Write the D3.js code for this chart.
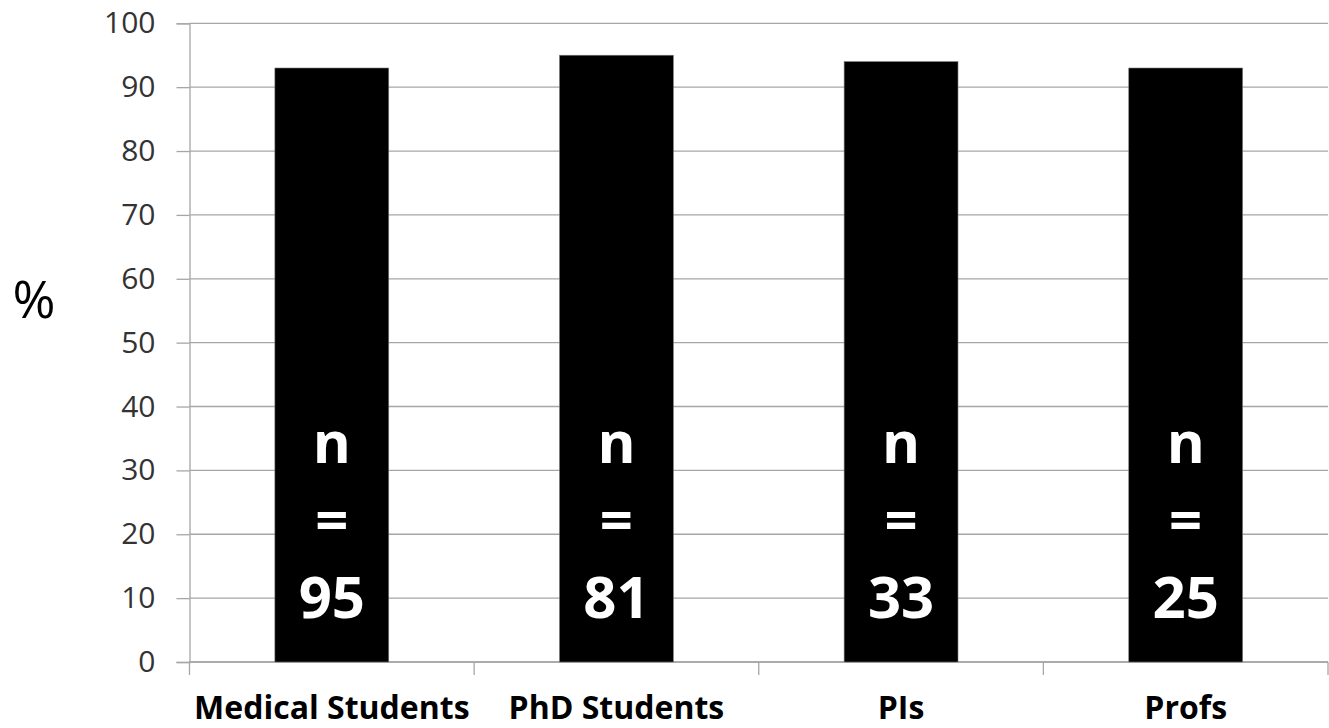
<!DOCTYPE html>
<html>
<head>
<meta charset="utf-8">
<script src="https://cdn.jsdelivr.net/npm/d3@7"></script>
<style>
  html, body { margin: 0; padding: 0; background: #fff; }
  svg { display: block; }
</style>
</head>
<body>
<svg id="chart" width="1329" height="728"></svg>
<script>
// Share of respondents (%) by group, with group sizes
const categories = ["Medical Students", "PhD Students", "PIs", "Profs"];
const percentValues = [93, 95, 94, 93];
const sampleSizes = [95, 81, 33, 25];
const yTickValues = [0, 10, 20, 30, 40, 50, 60, 70, 80, 90, 100];

const svg = d3.select("#chart");
const plotLeft = 189.5, plotRight = 1328, plotTop = 23.3, plotBottom = 662;

const x = d3.scaleBand().domain(categories).range([plotLeft, plotRight]).padding(0);
const y = d3.scaleLinear().domain([0, 100]).range([plotBottom, plotTop]);

const gridColor = "#a6a6a6";
const font = "'Open Sans', sans-serif";

// horizontal gridlines
svg.append("g")
  .selectAll("line")
  .data(yTickValues)
  .join("line")
  .attr("x1", plotLeft).attr("x2", plotRight)
  .attr("y1", d => y(d)).attr("y2", d => y(d))
  .attr("stroke", gridColor).attr("stroke-width", 1.3);

// y axis
const yAxis = svg.append("g")
  .attr("transform", `translate(${plotLeft},0)`)
  .call(d3.axisLeft(y).tickValues(yTickValues).tickSize(13).tickPadding(21));
yAxis.select(".domain").attr("stroke", gridColor).attr("stroke-width", 1.3);
yAxis.selectAll(".tick line").attr("stroke", gridColor).attr("stroke-width", 1.3);
yAxis.selectAll(".tick text")
  .attr("font-family", font).attr("font-size", 30).attr("fill", "#333");

// x axis: category labels below the baseline
const xAxis = svg.append("g")
  .attr("transform", `translate(0,${plotBottom})`)
  .call(d3.axisBottom(x).tickSize(0));
xAxis.select(".domain").remove();
xAxis.selectAll(".tick text")
  .attr("y", 57).attr("dy", 0)
  .attr("font-family", font).attr("font-size", 32).attr("font-weight", 700).attr("fill", "#000");

// tick marks at the category boundaries
const boundaries = categories.map(c => x(c)).concat([x(categories[categories.length - 1]) + x.bandwidth()]);
svg.append("g")
  .selectAll("line")
  .data(boundaries)
  .join("line")
  .attr("x1", d => d).attr("x2", d => d)
  .attr("y1", plotBottom).attr("y2", plotBottom + 13)
  .attr("stroke", gridColor).attr("stroke-width", 1.3);
svg.append("line")
  .attr("x1", plotLeft).attr("x2", plotRight)
  .attr("y1", plotBottom).attr("y2", plotBottom)
  .attr("stroke", gridColor).attr("stroke-width", 1.3);

// bars
const barW = x.bandwidth() * 0.4;
const data = categories.map((c, i) => ({ c, v: percentValues[i], n: sampleSizes[i] }));

svg.append("g")
  .selectAll("rect")
  .data(data)
  .join("rect")
  .attr("x", d => x(d.c) + (x.bandwidth() - barW) / 2)
  .attr("width", barW)
  .attr("y", d => y(d.v))
  .attr("height", d => y(0) - y(d.v))
  .attr("fill", "#000")
  .attr("stroke", "#777").attr("stroke-width", 0.6);

// sample size labels stacked inside each bar
const labels = svg.append("g")
  .selectAll("text")
  .data(data)
  .join("text")
  .attr("text-anchor", "middle")
  .attr("font-family", font).attr("font-size", 58).attr("font-weight", 700)
  .attr("fill", "#fff");
labels.each(function(d) {
  const cx = x(d.c) + x.bandwidth() / 2;
  const t = d3.select(this);
  ["n", "=", String(d.n)].forEach((s, i) => {
    t.append("tspan").attr("x", cx).attr("y", 463 + i * 77.5).text(s);
  });
});

// y axis title
svg.append("text")
  .attr("x", 34).attr("y", 318)
  .attr("text-anchor", "middle")
  .attr("font-family", font).attr("font-size", 52)
  .attr("fill", "#000")
  .text("%");
</script>
</body>
</html>
